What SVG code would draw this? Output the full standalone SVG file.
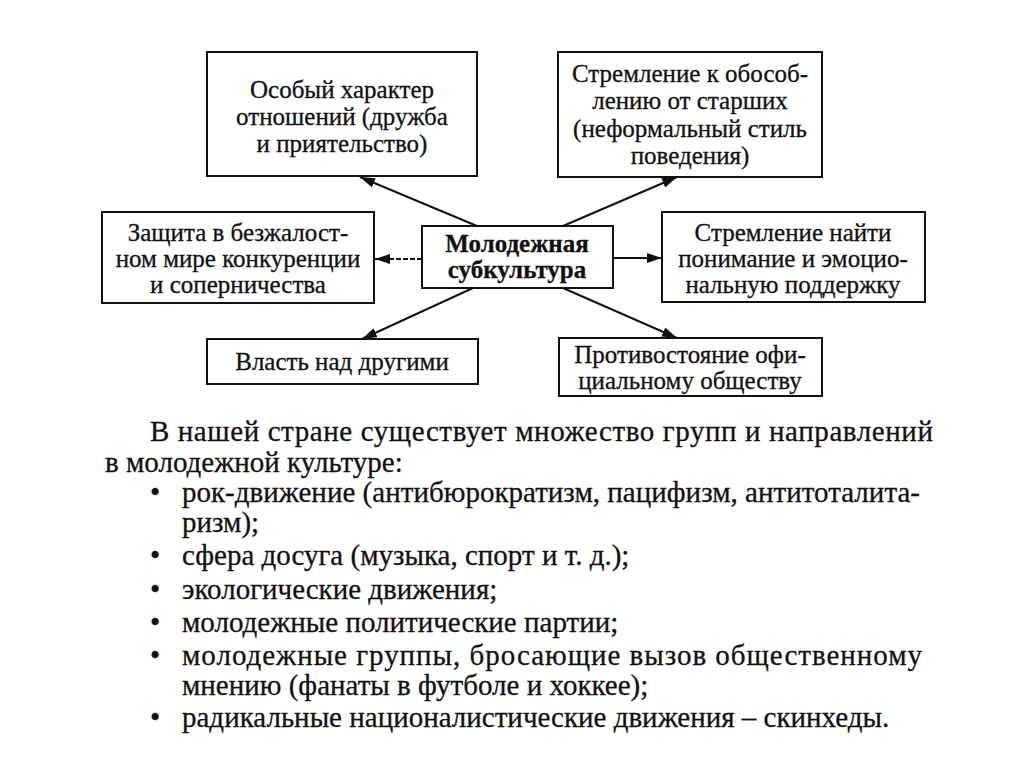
<svg xmlns="http://www.w3.org/2000/svg" width="1024" height="767" viewBox="0 0 1024 767">
<defs>
<marker id="ah" markerUnits="userSpaceOnUse" markerWidth="16" markerHeight="10" refX="15" refY="5" orient="auto">
<path d="M0,0 L15,5 L0,10 z" fill="#111"/>
</marker>
<style>
.box{fill:#fff;stroke:#111;stroke-width:2}
.bt{font-family:"Liberation Serif","Times New Roman",serif;font-size:25px;fill:#111;stroke:#111;stroke-width:0.3;text-anchor:middle}
.bold{font-weight:bold}
.con{stroke:#111;stroke-width:2;fill:none;marker-end:url(#ah)}
.dash{stroke-dasharray:5 2}
.pt{font-family:"Liberation Serif","Times New Roman",serif;font-size:29px;fill:#111;stroke:#111;stroke-width:0.3}
</style>
</defs>
<rect width="1024" height="767" fill="#fff"/>
<g id="connectors">
<line class="con" x1="477" y1="226" x2="360" y2="177"/>
<line class="con" x1="563" y1="226" x2="677" y2="177"/>
<line class="con dash" x1="422" y1="259" x2="375" y2="259"/>
<line class="con" x1="613" y1="258" x2="662" y2="258"/>
<line class="con" x1="473" y1="288" x2="362" y2="339"/>
<line class="con" x1="563" y1="288" x2="677" y2="338"/>
</g>
<g id="node-center">
<rect class="box" x="422" y="226" width="191" height="62"/>
<text class="bt bold" x="517" y="252">Молодежная</text>
<text class="bt bold" x="517" y="278">субкультура</text>
</g>
<g id="node-top-left">
<rect class="box" x="207" y="52" width="270" height="124"/>
<text class="bt" x="342" y="98">Особый характер</text>
<text class="bt" x="342" y="125">отношений (дружба</text>
<text class="bt" x="342" y="152">и приятельство)</text>
</g>
<g id="node-top-right">
<rect class="box" x="558" y="52" width="264" height="125"/>
<text class="bt" x="690" y="82">Стремление к обособ-</text>
<text class="bt" x="690" y="109">лению от старших</text>
<text class="bt" x="690" y="137">(неформальный стиль</text>
<text class="bt" x="690" y="164">поведения)</text>
</g>
<g id="node-left">
<rect class="box" x="102" y="212" width="272" height="91"/>
<text class="bt" x="238" y="241">Защита в безжалост-</text>
<text class="bt" x="238" y="267">ном мире конкуренции</text>
<text class="bt" x="238" y="293">и соперничества</text>
</g>
<g id="node-right">
<rect class="box" x="662" y="212" width="263" height="90"/>
<text class="bt" x="793" y="241">Стремление найти</text>
<text class="bt" x="793" y="267">понимание и эмоцио-</text>
<text class="bt" x="793" y="293">нальную поддержку</text>
</g>
<g id="node-bottom-left">
<rect class="box" x="207" y="339" width="271" height="45"/>
<text class="bt" x="342" y="370">Власть над другими</text>
</g>
<g id="node-bottom-right">
<rect class="box" x="559" y="338" width="263" height="58"/>
<text class="bt" x="690" y="363">Противостояние офи-</text>
<text class="bt" x="690" y="389">циальному обществу</text>
</g>
<g id="paragraph">
<text class="pt" x="150" y="441" textLength="783" lengthAdjust="spacing">В нашей стране существует множество групп и направлений</text>
<text class="pt" x="105" y="472">в молодежной культуре:</text>
<text class="pt" x="150" y="502">•</text>
<text class="pt" x="182" y="502" textLength="738" lengthAdjust="spacing">рок-движение (антибюрократизм, пацифизм, антитоталита-</text>
<text class="pt" x="182" y="532">ризм);</text>
<text class="pt" x="150" y="565">•</text>
<text class="pt" x="182" y="565">сфера досуга (музыка, спорт и т. д.);</text>
<text class="pt" x="150" y="599">•</text>
<text class="pt" x="182" y="599">экологические движения;</text>
<text class="pt" x="150" y="632">•</text>
<text class="pt" x="182" y="632">молодежные политические партии;</text>
<text class="pt" x="150" y="665">•</text>
<text class="pt" x="182" y="665" textLength="740" lengthAdjust="spacing">молодежные группы, бросающие вызов общественному</text>
<text class="pt" x="182" y="695">мнению (фанаты в футболе и хоккее);</text>
<text class="pt" x="150" y="727">•</text>
<text class="pt" x="182" y="727">радикальные националистические движения – скинхеды.</text>
</g>
</svg>
